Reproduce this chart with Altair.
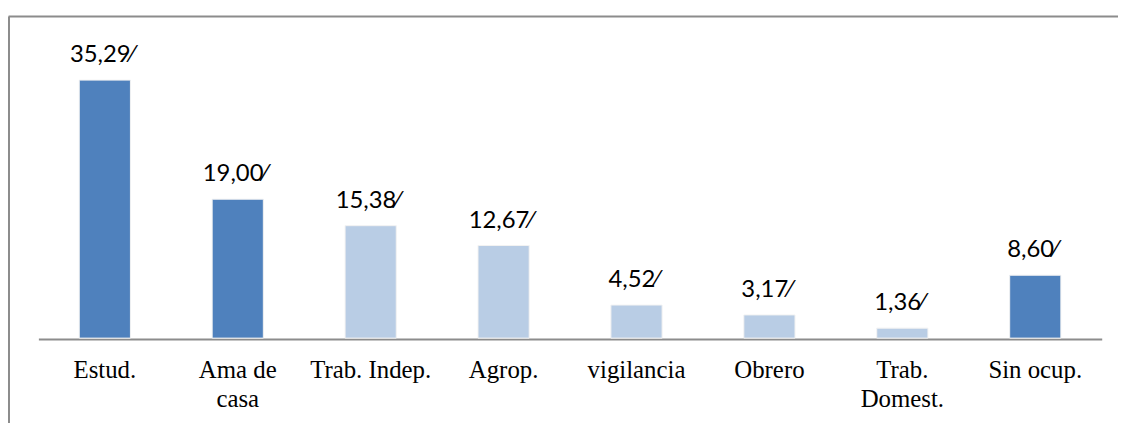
import altair as alt
import pandas as pd

categories = ["Estud.", "Ama de\ncasa", "Trab. Indep.", "Agrop.", "vigilancia", "Obrero", "Trab.\nDomest.", "Sin ocup."]
values = [35.29, 19.00, 15.38, 12.67, 4.52, 3.17, 1.36, 8.60]
groups = ["dark", "dark", "light", "light", "light", "light", "light", "dark"]

df = pd.DataFrame({"cat": categories, "val": values, "grp": groups})

W, H = 1071, 324

xenc = alt.X("cat:N", sort=categories,
             scale=alt.Scale(paddingInner=0.615, paddingOuter=0.3075),
             axis=alt.Axis(title=None, labelAngle=0, ticks=False, grid=False,
                           domainColor="#8c8c8c", domainWidth=2, offset=1,
                           labelFont="Liberation Serif", labelFontSize=25,
                           labelColor="#000000", labelPadding=19,
                           labelLineHeight=29, labelBaseline="top",
                           labelExpr="split(datum.label, '\\n')"))
yenc = alt.Y("val:Q", scale=alt.Scale(domain=[0, 44], nice=False, zero=True), axis=None)

base = alt.Chart(df).encode(x=xenc, y=yenc)

bars = base.mark_bar(stroke="#f2f2f2", strokeWidth=1).encode(
    color=alt.Color("grp:N", scale=alt.Scale(domain=["dark", "light"], range=["#4F81BD", "#B9CDE5"]), legend=None)
)

labels = base.transform_calculate(
    lab="replace(format(datum.val, '.2f'), '.', ',') + '\u2044'"
).mark_text(font="Lato", fontSize=24, color="#000000", baseline="alphabetic", dy=-18, dx=-3).encode(
    text="lab:N"
)

frame = alt.Chart(alt.Data(values=[{"a": 1}]))
top_rule = frame.mark_rule(color="#8c8c8c", strokeWidth=2).encode(
    x=alt.value(-30), x2=alt.value(1300), y=alt.value(0)
)
left_rule = frame.mark_rule(color="#8c8c8c", strokeWidth=2).encode(
    x=alt.value(-29.6), y=alt.value(0), y2=alt.value(600)
)

chart = alt.layer(bars, labels, top_rule, left_rule).properties(
    width=W, height=H,
    autosize=alt.AutoSizeParams(type="none"),
    padding={"left": 30.6, "top": 7, "right": 16.4, "bottom": 84},
    background="#ffffff",
).configure_view(stroke=None)

chart.save("out.html", embed_options={"renderer": "svg", "actions": False})
